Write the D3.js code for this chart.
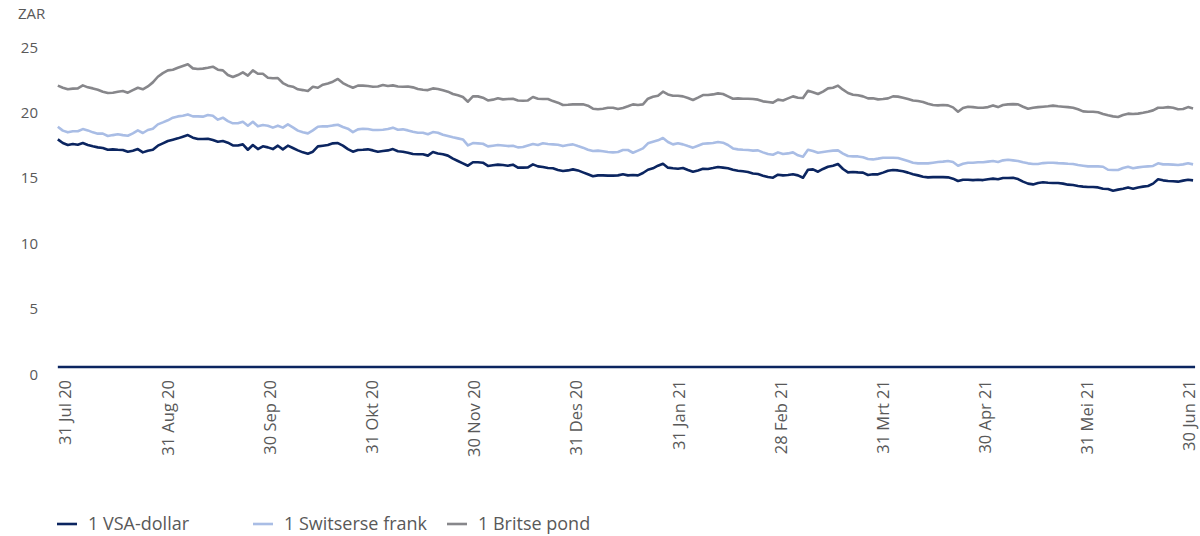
<!DOCTYPE html>
<html>
<head>
<meta charset="utf-8">
<script src="https://cdn.jsdelivr.net/npm/d3@7"></script>
<style>
body{margin:0;background:#fff}
text{font-family:"Open Sans","Noto Sans",sans-serif;fill:#595959}
</style>
</head>
<body>
<svg id="chart" width="1200" height="536"></svg>
<script>
// maandetikette op die x-as
var monthLabels = ["31 Jul 20","31 Aug 20","30 Sep 20","31 Okt 20","30 Nov 20","31 Des 20",
                   "31 Jan 21","28 Feb 21","31 Mrt 21","30 Apr 21","31 Mei 21","30 Jun 21"]
var yTicks = [0,5,10,15,20,25]
// eerste en laaste waarneming, in maande vanaf 31 Jul 20
var firstObs = -0.08, lastObs = 11.03

var usd = [17.40,17.12,16.97,17.05,16.99,17.12,16.97,16.87,16.79,16.74,16.61,16.64,16.61,16.59,16.46,16.54,16.66,16.41,16.54,16.61,
  16.92,17.10,17.28,17.38,17.48,17.61,17.73,17.53,17.43,17.43,17.45,17.35,17.22,17.28,17.15,16.94,16.94,17.02,16.61,16.97,
  16.66,16.87,16.79,16.66,16.92,16.64,16.92,
  16.74,16.56,16.41,16.31,16.46,16.87,16.92,16.97,17.10,17.12,16.92,16.66,16.46,16.59,16.61,16.64,16.56,16.46,16.51,16.56,
  16.66,16.49,16.46,16.38,16.28,16.26,16.26,16.16,16.44,16.33,16.26,16.16,15.93,15.75,15.57,15.39,15.65,15.65,15.62,15.37,
  15.42,15.47,15.44,15.39,15.47,15.24,15.24,
  15.26,15.49,15.34,15.29,15.21,15.19,15.06,14.98,15.03,15.11,15.03,14.88,14.73,14.58,14.65,14.65,14.63,14.63,14.65,14.73,
  14.65,14.68,14.65,14.83,15.08,15.19,15.39,15.54,15.24,15.19,15.16,15.21,15.06,14.93,15.03,15.16,15.14,15.21,15.29,15.24,
  15.19,15.08,15.01,14.96,14.91,14.80,14.75,
  14.63,14.52,14.47,14.70,14.65,14.68,14.73,14.65,14.47,15.08,15.11,14.93,15.14,15.31,15.39,15.52,15.14,14.88,14.91,14.88,
  14.86,14.68,14.73,14.73,14.86,15.01,15.06,15.03,14.96,14.86,14.73,14.65,14.55,14.50,14.52,14.52,14.52,14.50,14.40,14.22,
  14.32,14.32,14.29,14.32,14.29,14.35,14.40,
  14.35,14.45,14.45,14.47,14.37,14.17,14.02,13.96,14.07,14.12,14.09,14.07,14.07,14.02,13.94,13.91,13.84,13.79,13.76,13.76,
  13.73,13.63,13.61,13.48,13.56,13.63,13.73,13.63,13.73,13.79,13.84,14.02,14.35,14.27,14.22,14.20,14.17,14.25,14.32,14.27]

var chf = [18.37,18.07,17.94,18.02,18.02,18.19,18.09,17.94,17.84,17.84,17.66,17.73,17.79,17.73,17.68,17.86,18.09,17.89,18.12,18.22,
  18.55,18.70,18.86,19.06,19.16,19.21,19.31,19.16,19.16,19.14,19.26,19.21,18.91,19.06,18.80,18.63,18.63,18.75,18.45,18.75,
  18.40,18.50,18.45,18.30,18.45,18.30,18.55,
  18.32,18.07,17.94,17.86,18.09,18.37,18.40,18.40,18.47,18.52,18.35,18.22,17.96,18.17,18.22,18.19,18.12,18.12,18.14,18.19,
  18.30,18.14,18.17,18.09,17.99,17.91,17.91,17.79,17.96,17.91,17.76,17.66,17.56,17.48,17.40,16.94,17.12,17.10,17.07,16.87,
  16.92,16.97,16.94,16.89,16.92,16.79,16.82,
  16.94,17.05,16.97,17.10,17.05,17.02,16.99,16.89,16.97,17.02,16.89,16.77,16.61,16.51,16.54,16.49,16.44,16.41,16.44,16.59,
  16.59,16.38,16.54,16.71,17.10,17.22,17.33,17.51,17.20,17.02,17.10,17.02,16.89,16.77,16.92,17.07,17.10,17.12,17.20,17.15,
  16.97,16.71,16.64,16.61,16.59,16.54,16.56,
  16.41,16.28,16.23,16.41,16.28,16.33,16.41,16.18,16.08,16.61,16.51,16.38,16.44,16.49,16.54,16.56,16.31,16.13,16.10,16.10,
  16.03,15.90,15.87,15.93,16.00,16.00,16.00,15.98,15.87,15.75,15.62,15.57,15.57,15.57,15.62,15.67,15.70,15.75,15.67,15.39,
  15.54,15.62,15.62,15.65,15.65,15.70,15.75,
  15.67,15.80,15.85,15.80,15.75,15.65,15.57,15.52,15.52,15.59,15.62,15.62,15.59,15.57,15.54,15.52,15.44,15.39,15.34,15.34,
  15.34,15.31,15.08,15.06,15.06,15.21,15.31,15.19,15.26,15.31,15.34,15.37,15.57,15.49,15.49,15.47,15.44,15.49,15.57,15.49]

var gbp = [21.51,21.35,21.23,21.28,21.30,21.53,21.38,21.30,21.20,21.05,20.95,20.97,21.05,21.10,20.97,21.17,21.35,21.23,21.45,21.76,
  22.19,22.47,22.68,22.73,22.88,23.01,23.14,22.83,22.78,22.81,22.88,22.96,22.73,22.68,22.32,22.17,22.32,22.52,22.27,22.68,
  22.42,22.42,22.12,22.07,22.09,21.71,21.51,
  21.43,21.23,21.17,21.10,21.43,21.35,21.58,21.68,21.81,22.02,21.71,21.51,21.35,21.51,21.51,21.48,21.43,21.45,21.56,21.48,
  21.53,21.45,21.43,21.45,21.38,21.25,21.20,21.17,21.30,21.25,21.15,21.05,20.87,20.77,20.64,20.28,20.69,20.69,20.59,20.38,
  20.44,20.54,20.46,20.49,20.51,20.38,20.36,
  20.38,20.64,20.51,20.49,20.49,20.33,20.21,20.03,20.05,20.08,20.08,20.08,19.98,19.75,19.70,19.75,19.82,19.82,19.72,19.80,
  19.93,20.08,20.03,20.08,20.51,20.66,20.74,21.05,20.84,20.74,20.74,20.69,20.56,20.41,20.59,20.79,20.79,20.84,20.92,20.87,
  20.69,20.51,20.54,20.51,20.51,20.49,20.44,
  20.31,20.26,20.21,20.44,20.38,20.54,20.69,20.59,20.56,21.12,21.00,20.87,21.05,21.30,21.35,21.51,21.20,20.95,20.82,20.77,
  20.69,20.54,20.54,20.46,20.49,20.54,20.69,20.67,20.59,20.49,20.38,20.33,20.26,20.13,20.03,20.00,20.03,20.00,19.85,19.52,
  19.80,19.90,19.87,19.82,19.82,19.87,20.00,
  19.87,20.03,20.08,20.10,20.08,19.90,19.75,19.82,19.87,19.90,19.93,19.98,19.93,19.90,19.87,19.82,19.70,19.54,19.52,19.52,
  19.47,19.34,19.24,19.16,19.11,19.26,19.37,19.34,19.37,19.44,19.52,19.62,19.82,19.82,19.87,19.82,19.70,19.72,19.87,19.77]

var seriesNames = ["1 VSA-dollar","1 Switserse frank","1 Britse pond"]
var seriesColors = ["#0b2560","#a9bde5","#87878b"]
var seriesData = [usd, chf, gbp]

var svg = d3.select("#chart")

var x = d3.scaleLinear().domain([0, 11]).range([66, 1190]),
    y = d3.scaleLinear().domain([0, 25]).range([367, 40])

// posisie van elke waarneming in maande
var obsPos = function(i, n) { return firstObs + i * (lastObs - firstObs) / (n - 1) }

// y-as etikette
var yAxis = svg.append("g")
    .attr("transform", "translate(38,0)")
    .call(d3.axisLeft(y).tickValues(yTicks).tickSize(0).tickPadding(0))
yAxis.select(".domain").remove()
yAxis.selectAll("text")
    .attr("dy", "0.8em")
    .style("font-size", "15px")
    .style("font-family", null)
    .attr("fill", "#595959")

svg.append("text")
    .attr("x", 18).attr("y", 19)
    .style("font-size", "15px")
    .text("ZAR")

// x-as etikette
var xAxis = svg.append("g")
    .attr("transform", "translate(0,380)")
    .call(d3.axisBottom(x).tickValues(d3.range(monthLabels.length))
        .tickFormat(function(i) { return monthLabels[i] }).tickSize(0))
xAxis.select(".domain").remove()
xAxis.selectAll("text")
    .attr("transform", "rotate(-90)")
    .attr("x", 0).attr("y", 0)
    .attr("dy", "0.3em")
    .style("text-anchor", "end")
    .style("font-size", "16.5px")
    .style("font-family", null)
    .attr("fill", "#595959")

// lyne
var line = d3.line()
    .x(function(d, i, arr) { return x(obsPos(i, arr.length)) })
    .y(function(d) { return y(d) })

svg.selectAll(".series")
    .data(seriesData)
    .enter().append("path")
    .attr("class", "series")
    .attr("d", function(d) { return line(d) })
    .attr("fill", "none")
    .attr("stroke", function(d, i) { return seriesColors[i] })
    .attr("stroke-width", 2.6)
    .attr("stroke-linejoin", "round")

// nul-lyn
svg.append("line")
    .attr("x1", x(firstObs)).attr("x2", x(lastObs) + 2)
    .attr("y1", y(0)).attr("y2", y(0))
    .attr("stroke", "#0b2560")
    .attr("stroke-width", 2.6)

// legende
var legendX = [57, 253, 447]
var legend = svg.selectAll(".legend")
    .data(seriesNames)
    .enter().append("g")
    .attr("class", "legend")
    .attr("transform", function(d, i) { return "translate(" + legendX[i] + ",524)" })
legend.append("line")
    .attr("x1", 0).attr("x2", 20)
    .attr("stroke", function(d, i) { return seriesColors[i] })
    .attr("stroke-width", 2.6)
legend.append("text")
    .attr("x", 31).attr("dy", "0.35em")
    .style("font-size", "18px")
    .text(function(d) { return d })
</script>
</body>
</html>
